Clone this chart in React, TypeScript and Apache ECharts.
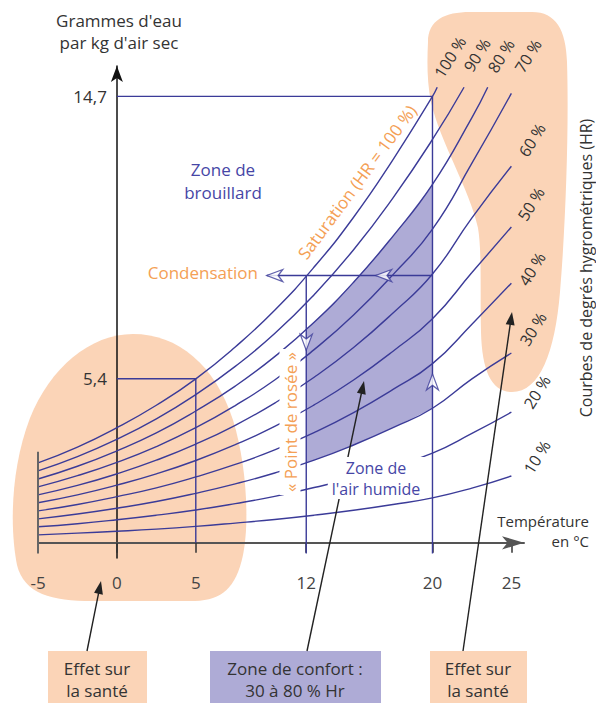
import React, { useEffect, useRef } from "react";
import * as echarts from "echarts";

// ---------- data ----------
const temps = [-5, -2.5, 0, 2.5, 5, 7.5, 10, 12.5, 15, 17.5, 20, 22.5, 25];
const hr100 = [2.63, 3.15, 3.79, 4.53, 5.4, 6.45, 7.66, 9.08, 10.72, 12.62, 14.7];
const hr90 = [2.37, 2.84, 3.41, 4.08, 4.88, 5.81, 6.89, 8.17, 9.65, 11.36, 13.28];
const hr80 = [2.1, 2.52, 3.03, 3.62, 4.34, 5.16, 6.13, 7.26, 8.58, 10.1, 11.8, 14.0];
const hr70 = [1.84, 2.21, 2.65, 3.17, 3.79, 4.52, 5.36, 6.36, 7.5, 8.83, 10.33, 12.5, 14.8];
const hr60 = [1.58, 1.89, 2.27, 2.72, 3.25, 3.87, 4.6, 5.45, 6.43, 7.57, 8.85, 10.7, 12.4];
const hr50 = [1.32, 1.58, 1.9, 2.27, 2.71, 3.23, 3.83, 4.54, 5.36, 6.31, 7.38, 8.9, 10.4];
const hr40 = [1.05, 1.26, 1.52, 1.81, 2.17, 2.58, 3.06, 3.63, 4.29, 5.05, 5.9, 7.2, 8.55];
const hr30 = [0.79, 0.95, 1.14, 1.36, 1.63, 1.94, 2.3, 2.72, 3.22, 3.79, 4.43, 5.4, 6.25];
const hr20 = [0.53, 0.63, 0.76, 0.91, 1.08, 1.29, 1.53, 1.82, 2.14, 2.52, 2.95, 3.6, 4.3];
const hr10 = [0.26, 0.32, 0.38, 0.45, 0.54, 0.65, 0.77, 0.91, 1.07, 1.26, 1.48, 1.8, 2.2];
const hrCurves = [hr100, hr90, hr80, hr70, hr60, hr50, hr40, hr30, hr20, hr10];
const hrEnds: (number[] | null)[] = [[20.3, 15.0], [22, 15.0], [23.5, 15.0], null, null, null, null, null, null, null];
const hrLabels = ["100 %", "90 %", "80 %", "70 %", "60 %", "50 %", "40 %", "30 %", "20 %", "10 %"];

const xTickValues = [-5, 0, 5, 12, 20, 25];
const yTickValues = [5.4, 14.7];

const comfortT = [12, 12.5, 15, 17.5, 20];
const comfortTop = [7.0, 7.26, 8.58, 10.1, 11.8];
const comfortBottom = [2.63, 2.72, 3.22, 3.79, 4.43];

const coldT = 5, coldW = 5.4;
const warmT = 20, warmW = 14.7;
const dewT = 12, condW = 8.8, condEndT = 9.5;
const openArrows = [
  { value: [10.0, 8.8], rot: 0 },
  { value: [16.9, 8.8], rot: 0 },
  { value: [12, 6.6], rot: 90 },
  { value: [20, 5.3], rot: -90 },
];

// ---------- layout / styling ----------
const X_MIN = -5, X_MAX = 25.8;
const GRID_LEFT = 38, GRID_RIGHT = 72;
const PX_PER_DEG = (596 - GRID_LEFT - GRID_RIGHT) / (X_MAX - X_MIN);

const BLUE = "#3b3b98";
const PEACH = "#fbd4b7";
const LAVENDER = "#aeabd6";
const ORANGE = "#f4a055";
const TXT = "#333";
const FONT = "'Open Sans', sans-serif";

const blobLeftD =
  "M133,334 C178,334 215,365 233,420 C246,462 250,520 243,555 C236,588 222,600 195,601 L92,601 C52,601 24,594 17,565 C10,530 10,470 30,418 C50,368 90,334 133,334 Z";
const blobRightD =
  "M428,42 C428,20 445,12 470,12 L532,12 C556,12 566,30 567,62 C569,125 566,220 560,292 C555,352 540,392 512,392 C492,392 482,372 481,332 C480,292 482,252 478,228 C470,190 440,142 431,102 C427,82 427,62 428,42 Z";

let registered = false;
function registerShapes() {
  if (registered) return;
  registered = true;
  echarts.graphic.registerShape("blobLeft", echarts.graphic.extendPath(blobLeftD, {}) as any);
  echarts.graphic.registerShape("blobRight", echarts.graphic.extendPath(blobRightD, {}) as any);
}

function blackArrow(x1: number, y1: number, x2: number, y2: number) {
  const dx = x2 - x1, dy = y2 - y1;
  const len = Math.hypot(dx, dy);
  const ux = dx / len, uy = dy / len;
  const hl = 13, hw = 4.5;
  const bx = x2 - ux * hl, by = y2 - uy * hl;
  return [
    { type: "line", z: 10, shape: { x1, y1, x2: bx + ux * 2, y2: by + uy * 2 }, style: { stroke: "#222", lineWidth: 1.4 } },
    {
      type: "polygon", z: 10,
      shape: { points: [[x2, y2], [bx - uy * hw, by + ux * hw], [bx + uy * hw, by - ux * hw]] },
      style: { fill: "#222" },
    },
  ];
}

function txt(text: string, x: number, y: number, opts: any = {}) {
  return {
    type: "text",
    z: opts.z ?? 20,
    x, y,
    rotation: opts.rotation ?? 0,
    style: {
      text,
      fill: opts.fill ?? TXT,
      font: `${opts.size ?? 17}px ${FONT}`,
      align: opts.align ?? "center",
      verticalAlign: "middle",
      lineHeight: opts.lineHeight ?? 21,
      backgroundColor: opts.bg,
      padding: opts.padding,
    },
  };
}

export default function App() {
  const ref = useRef<HTMLDivElement>(null);
  useEffect(() => {
    if (!ref.current) return;
    registerShapes();
    const chart = echarts.init(ref.current, null, { renderer: "svg" });

    const curveSeries = hrCurves.map((vals, i) => {
      const data: number[][] = vals.map((v, j) => [temps[j], v]);
      const end = hrEnds[i];
      if (end) data.push(end);
      return {
        type: "line",
        name: hrLabels[i],
        data,
        smooth: true,
        showSymbol: false,
        clip: false,
        lineStyle: { color: BLUE, width: 1.4 },
        z: 3,
      };
    });

    const seg = (pts: number[][], color = BLUE, width = 1.4) => ({
      type: "line",
      data: pts,
      showSymbol: false,
      clip: false,
      lineStyle: { color, width },
      z: 4,
    });

    const pctPos = [
      [450, 57], [477, 55], [501, 56], [528, 56], [532, 140],
      [531, 204], [532, 269], [533, 329], [537, 392], [537, 457],
    ];

    const graphics: any[] = [
      { type: "blobLeft", z: -1, x: 0, y: 0, style: { fill: PEACH } },
      { type: "blobRight", z: -1, x: 0, y: 0, style: { fill: PEACH } },
      ...blackArrow(87, 651, 101, 581),
      ...blackArrow(307, 651, 364, 381),
      ...blackArrow(463, 651, 512, 312),
      { type: "rect", z: 5, shape: { x: 48, y: 651, width: 99, height: 52 }, style: { fill: PEACH } },
      { type: "rect", z: 5, shape: { x: 210, y: 651, width: 171, height: 52 }, style: { fill: LAVENDER } },
      { type: "rect", z: 5, shape: { x: 430, y: 651, width: 97, height: 52 }, style: { fill: PEACH } },
      txt("Effet sur\nla santé", 97, 679, { size: 17, lineHeight: 22 }),
      txt("Zone de confort :\n30 à 80 % Hr", 295, 679, { size: 17, lineHeight: 22 }),
      txt("Effet sur\nla santé", 478, 679, { size: 17, lineHeight: 22 }),
      txt("Grammes d'eau\npar kg d'air sec", 119, 31, { size: 17, lineHeight: 22 }),
      txt("Température\nen °C", 589, 531, { size: 15, lineHeight: 20, align: "right" }),
      txt("Zone de\nbrouillard", 223, 181, { size: 17, lineHeight: 23, fill: "#4646a6" }),
      txt("Zone de\nl'air humide", 376, 478, { size: 16, lineHeight: 21, fill: "#4646a6", bg: "#fff", padding: [0, 4] }),
      txt("Condensation", 258, 272, { size: 17, fill: ORANGE, align: "right" }),
      txt("« Point de rosée »", 290, 422, { size: 17, fill: ORANGE, rotation: Math.PI / 2, bg: "#fff", padding: [0, 3] }),
      txt("Saturation (HR = 100 %)", 357, 182, { size: 17, fill: ORANGE, rotation: (53.5 * Math.PI) / 180 }),
      txt("Courbes de degrés hygrométriques (HR)", 586, 268, { size: 16, rotation: Math.PI / 2 }),
      ...hrLabels.map((l, i) => txt(l, pctPos[i][0], pctPos[i][1], { size: 16, rotation: (58 * Math.PI) / 180 })),
    ];

    chart.setOption({
      animation: false,
      backgroundColor: "#fff",
      textStyle: { fontFamily: FONT },
      grid: { left: GRID_LEFT, right: GRID_RIGHT, top: 66, bottom: 145, containLabel: false },
      xAxis: {
        type: "value",
        min: X_MIN,
        max: X_MAX,
        splitLine: { show: false },
        axisLine: {
          onZero: true,
          symbol: ["none", "arrow"],
          symbolSize: [10, 22],
          lineStyle: { color: "#555", width: 2 },
        },
        axisTick: { show: true, customValues: xTickValues, length: 10, lineStyle: { color: "#333", width: 1.5 } },
        axisLabel: { customValues: xTickValues, color: "#444", fontSize: 17, margin: 16, fontFamily: FONT },
      },
      yAxis: {
        type: "value",
        min: -0.5,
        max: 15.7,
        offset: -(0 - X_MIN) * PX_PER_DEG,
        splitLine: { show: false },
        axisLine: {
          onZero: false,
          symbol: ["none", "arrow"],
          symbolSize: [9, 16],
          lineStyle: { color: "#111", width: 1.5 },
        },
        axisTick: { show: false },
        axisLabel: {
          customValues: yTickValues,
          color: TXT,
          fontSize: 17,
          margin: 10,
          fontFamily: FONT,
          formatter: (v: number) => String(v).replace(".", ","),
        },
      },
      graphic: graphics,
      series: [
        {
          type: "custom",
          z: 1,
          clip: false,
          data: [[comfortT[0], comfortBottom[0]]],
          renderItem: (_p: any, api: any) => {
            const top = comfortT.map((t, i) => api.coord([t, comfortTop[i]]));
            const bottom = comfortT.map((t, i) => api.coord([t, comfortBottom[i]])).reverse();
            return { type: "polygon", shape: { points: [...top, ...bottom] }, style: { fill: LAVENDER } };
          },
        },
        ...curveSeries,
        seg([[0, warmW], [warmT, warmW], [warmT, -0.35]]),
        seg([[0, coldW], [coldT, coldW], [coldT, 0]]),
        seg([[warmT, condW], [condEndT, condW]]),
        seg([[dewT, condW], [dewT, -0.35]]),
        seg([[-5, 3.0], [-5, -0.35]], "#666", 2),
        {
          type: "scatter",
          z: 6,
          symbol: "path://M0,6 L16,0 L11.5,6 L16,12 Z",
          symbolSize: [16, 12],
          itemStyle: { color: "#fff", borderColor: BLUE, borderWidth: 1.3 },
          data: openArrows.map((a) => ({ value: a.value, symbolRotate: a.rot })),
        },
      ],
    });
    return () => chart.dispose();
  }, []);
  return (
    <div
      ref={ref}
      style={{ position: "absolute", left: 0, top: 0, width: 596, height: 703, background: "#fff" }}
    />
  );
}
